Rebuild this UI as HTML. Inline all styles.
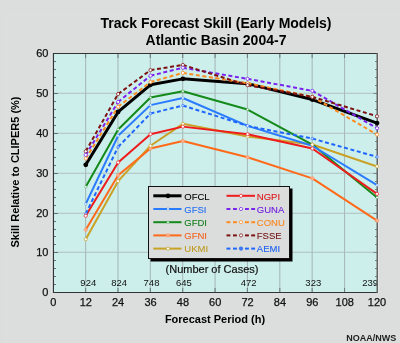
<!DOCTYPE html><html><head><meta charset="utf-8"><style>html,body{margin:0;padding:0;background:#dbdedd;}svg{display:block;will-change:transform;font-family:"Liberation Sans",sans-serif;}</style></head><body>
<svg width="400" height="343" viewBox="0 0 400 343">
<rect x="0" y="0" width="400" height="343" fill="#dbdedd"/>
<rect x="6.5" y="14.5" width="394" height="330" fill="none" stroke="#dde0df" stroke-width="1"/>
<text x="216" y="28.3" text-anchor="middle" font-size="14" font-weight="bold" fill="#000">Track Forecast Skill (Early Models)</text>
<text x="216" y="44.9" text-anchor="middle" font-size="14" font-weight="bold" fill="#000">Atlantic Basin 2004-7</text>
<rect x="53.5" y="53.5" width="324" height="239" fill="#ccefec"/>
<line x1="85.61" y1="54" x2="85.61" y2="292" stroke="#a8baba" stroke-width="1.1"/>
<line x1="85.61" y1="54" x2="85.61" y2="58" stroke="#6f7f7f" stroke-width="1.1"/>
<line x1="85.61" y1="288" x2="85.61" y2="292" stroke="#6f7f7f" stroke-width="1.1"/>
<line x1="117.98" y1="54" x2="117.98" y2="292" stroke="#a8baba" stroke-width="1.1"/>
<line x1="117.98" y1="54" x2="117.98" y2="58" stroke="#6f7f7f" stroke-width="1.1"/>
<line x1="117.98" y1="288" x2="117.98" y2="292" stroke="#6f7f7f" stroke-width="1.1"/>
<line x1="150.34" y1="54" x2="150.34" y2="292" stroke="#a8baba" stroke-width="1.1"/>
<line x1="150.34" y1="54" x2="150.34" y2="58" stroke="#6f7f7f" stroke-width="1.1"/>
<line x1="150.34" y1="288" x2="150.34" y2="292" stroke="#6f7f7f" stroke-width="1.1"/>
<line x1="182.71" y1="54" x2="182.71" y2="292" stroke="#a8baba" stroke-width="1.1"/>
<line x1="182.71" y1="54" x2="182.71" y2="58" stroke="#6f7f7f" stroke-width="1.1"/>
<line x1="182.71" y1="288" x2="182.71" y2="292" stroke="#6f7f7f" stroke-width="1.1"/>
<line x1="247.43" y1="54" x2="247.43" y2="292" stroke="#a8baba" stroke-width="1.1"/>
<line x1="247.43" y1="54" x2="247.43" y2="58" stroke="#6f7f7f" stroke-width="1.1"/>
<line x1="247.43" y1="288" x2="247.43" y2="292" stroke="#6f7f7f" stroke-width="1.1"/>
<line x1="312.16" y1="54" x2="312.16" y2="292" stroke="#a8baba" stroke-width="1.1"/>
<line x1="312.16" y1="54" x2="312.16" y2="58" stroke="#6f7f7f" stroke-width="1.1"/>
<line x1="312.16" y1="288" x2="312.16" y2="292" stroke="#6f7f7f" stroke-width="1.1"/>
<line x1="215.07" y1="54" x2="215.07" y2="292" stroke="#a8baba" stroke-width="1.1"/>
<line x1="215.07" y1="54" x2="215.07" y2="58" stroke="#6f7f7f" stroke-width="1.1"/>
<line x1="215.07" y1="288" x2="215.07" y2="292" stroke="#6f7f7f" stroke-width="1.1"/>
<line x1="279.80" y1="54" x2="279.80" y2="292" stroke="#a8baba" stroke-width="1.1"/>
<line x1="279.80" y1="54" x2="279.80" y2="58" stroke="#6f7f7f" stroke-width="1.1"/>
<line x1="279.80" y1="288" x2="279.80" y2="292" stroke="#6f7f7f" stroke-width="1.1"/>
<line x1="344.53" y1="54" x2="344.53" y2="292" stroke="#a8baba" stroke-width="1.1"/>
<line x1="344.53" y1="54" x2="344.53" y2="58" stroke="#6f7f7f" stroke-width="1.1"/>
<line x1="344.53" y1="288" x2="344.53" y2="292" stroke="#6f7f7f" stroke-width="1.1"/>
<line x1="54" y1="252.25" x2="377" y2="252.25" stroke="#acbfbf" stroke-width="1.1"/>
<line x1="54" y1="213.25" x2="377" y2="213.25" stroke="#acbfbf" stroke-width="1.1"/>
<line x1="54" y1="173.25" x2="377" y2="173.25" stroke="#acbfbf" stroke-width="1.1"/>
<line x1="54" y1="133.25" x2="377" y2="133.25" stroke="#acbfbf" stroke-width="1.1"/>
<line x1="54" y1="93.25" x2="377" y2="93.25" stroke="#acbfbf" stroke-width="1.1"/>
<line x1="54" y1="284.5" x2="56" y2="284.5" stroke="#667070" stroke-width="1"/>
<line x1="375.0" y1="284.5" x2="377" y2="284.5" stroke="#7a8585" stroke-width="1"/>
<line x1="54" y1="276.5" x2="56" y2="276.5" stroke="#667070" stroke-width="1"/>
<line x1="375.0" y1="276.5" x2="377" y2="276.5" stroke="#7a8585" stroke-width="1"/>
<line x1="54" y1="268.5" x2="56" y2="268.5" stroke="#667070" stroke-width="1"/>
<line x1="375.0" y1="268.5" x2="377" y2="268.5" stroke="#7a8585" stroke-width="1"/>
<line x1="54" y1="260.5" x2="56" y2="260.5" stroke="#667070" stroke-width="1"/>
<line x1="375.0" y1="260.5" x2="377" y2="260.5" stroke="#7a8585" stroke-width="1"/>
<line x1="54" y1="252.5" x2="58" y2="252.5" stroke="#667070" stroke-width="1"/>
<line x1="373.5" y1="252.5" x2="377" y2="252.5" stroke="#7a8585" stroke-width="1"/>
<line x1="54" y1="244.5" x2="56" y2="244.5" stroke="#667070" stroke-width="1"/>
<line x1="375.0" y1="244.5" x2="377" y2="244.5" stroke="#7a8585" stroke-width="1"/>
<line x1="54" y1="236.5" x2="56" y2="236.5" stroke="#667070" stroke-width="1"/>
<line x1="375.0" y1="236.5" x2="377" y2="236.5" stroke="#7a8585" stroke-width="1"/>
<line x1="54" y1="229.5" x2="56" y2="229.5" stroke="#667070" stroke-width="1"/>
<line x1="375.0" y1="229.5" x2="377" y2="229.5" stroke="#7a8585" stroke-width="1"/>
<line x1="54" y1="221.5" x2="56" y2="221.5" stroke="#667070" stroke-width="1"/>
<line x1="375.0" y1="221.5" x2="377" y2="221.5" stroke="#7a8585" stroke-width="1"/>
<line x1="54" y1="213.5" x2="58" y2="213.5" stroke="#667070" stroke-width="1"/>
<line x1="373.5" y1="213.5" x2="377" y2="213.5" stroke="#7a8585" stroke-width="1"/>
<line x1="54" y1="205.5" x2="56" y2="205.5" stroke="#667070" stroke-width="1"/>
<line x1="375.0" y1="205.5" x2="377" y2="205.5" stroke="#7a8585" stroke-width="1"/>
<line x1="54" y1="197.5" x2="56" y2="197.5" stroke="#667070" stroke-width="1"/>
<line x1="375.0" y1="197.5" x2="377" y2="197.5" stroke="#7a8585" stroke-width="1"/>
<line x1="54" y1="189.5" x2="56" y2="189.5" stroke="#667070" stroke-width="1"/>
<line x1="375.0" y1="189.5" x2="377" y2="189.5" stroke="#7a8585" stroke-width="1"/>
<line x1="54" y1="181.5" x2="56" y2="181.5" stroke="#667070" stroke-width="1"/>
<line x1="375.0" y1="181.5" x2="377" y2="181.5" stroke="#7a8585" stroke-width="1"/>
<line x1="54" y1="173.5" x2="58" y2="173.5" stroke="#667070" stroke-width="1"/>
<line x1="373.5" y1="173.5" x2="377" y2="173.5" stroke="#7a8585" stroke-width="1"/>
<line x1="54" y1="165.5" x2="56" y2="165.5" stroke="#667070" stroke-width="1"/>
<line x1="375.0" y1="165.5" x2="377" y2="165.5" stroke="#7a8585" stroke-width="1"/>
<line x1="54" y1="157.5" x2="56" y2="157.5" stroke="#667070" stroke-width="1"/>
<line x1="375.0" y1="157.5" x2="377" y2="157.5" stroke="#7a8585" stroke-width="1"/>
<line x1="54" y1="149.5" x2="56" y2="149.5" stroke="#667070" stroke-width="1"/>
<line x1="375.0" y1="149.5" x2="377" y2="149.5" stroke="#7a8585" stroke-width="1"/>
<line x1="54" y1="141.5" x2="56" y2="141.5" stroke="#667070" stroke-width="1"/>
<line x1="375.0" y1="141.5" x2="377" y2="141.5" stroke="#7a8585" stroke-width="1"/>
<line x1="54" y1="133.5" x2="58" y2="133.5" stroke="#667070" stroke-width="1"/>
<line x1="373.5" y1="133.5" x2="377" y2="133.5" stroke="#7a8585" stroke-width="1"/>
<line x1="54" y1="125.5" x2="56" y2="125.5" stroke="#667070" stroke-width="1"/>
<line x1="375.0" y1="125.5" x2="377" y2="125.5" stroke="#7a8585" stroke-width="1"/>
<line x1="54" y1="117.5" x2="56" y2="117.5" stroke="#667070" stroke-width="1"/>
<line x1="375.0" y1="117.5" x2="377" y2="117.5" stroke="#7a8585" stroke-width="1"/>
<line x1="54" y1="109.5" x2="56" y2="109.5" stroke="#667070" stroke-width="1"/>
<line x1="375.0" y1="109.5" x2="377" y2="109.5" stroke="#7a8585" stroke-width="1"/>
<line x1="54" y1="101.5" x2="56" y2="101.5" stroke="#667070" stroke-width="1"/>
<line x1="375.0" y1="101.5" x2="377" y2="101.5" stroke="#7a8585" stroke-width="1"/>
<line x1="54" y1="93.5" x2="58" y2="93.5" stroke="#667070" stroke-width="1"/>
<line x1="373.5" y1="93.5" x2="377" y2="93.5" stroke="#7a8585" stroke-width="1"/>
<line x1="54" y1="85.5" x2="56" y2="85.5" stroke="#667070" stroke-width="1"/>
<line x1="375.0" y1="85.5" x2="377" y2="85.5" stroke="#7a8585" stroke-width="1"/>
<line x1="54" y1="77.5" x2="56" y2="77.5" stroke="#667070" stroke-width="1"/>
<line x1="375.0" y1="77.5" x2="377" y2="77.5" stroke="#7a8585" stroke-width="1"/>
<line x1="54" y1="69.5" x2="56" y2="69.5" stroke="#667070" stroke-width="1"/>
<line x1="375.0" y1="69.5" x2="377" y2="69.5" stroke="#7a8585" stroke-width="1"/>
<line x1="54" y1="61.5" x2="56" y2="61.5" stroke="#667070" stroke-width="1"/>
<line x1="375.0" y1="61.5" x2="377" y2="61.5" stroke="#7a8585" stroke-width="1"/>
<text x="88.3" y="285.9" text-anchor="middle" font-size="9.5" fill="#111">924</text>
<text x="119.1" y="285.9" text-anchor="middle" font-size="9.5" fill="#111">824</text>
<text x="151.5" y="285.9" text-anchor="middle" font-size="9.5" fill="#111">748</text>
<text x="183.9" y="285.9" text-anchor="middle" font-size="9.5" fill="#111">645</text>
<text x="248.6" y="285.9" text-anchor="middle" font-size="9.5" fill="#111">472</text>
<text x="313.3" y="285.9" text-anchor="middle" font-size="9.5" fill="#111">323</text>
<text x="378.0" y="285.9" text-anchor="end" font-size="9.5" fill="#111">239</text>
<text x="212" y="272.5" text-anchor="middle" font-size="11" fill="#111" stroke="#111" stroke-width="0.2">(Number of Cases)</text>
<polyline points="85.76,239.27 118.13,181.16 150.49,145.74 182.86,123.85 247.58,136.58 312.31,144.54 377.04,166.43" fill="none" stroke="#c9a227" stroke-width="2.0" stroke-linejoin="round"/>
<polyline points="85.76,229.71 118.13,175.19 150.49,148.52 182.86,140.96 247.58,157.28 312.31,178.37 377.04,220.56" fill="none" stroke="#ff6a1a" stroke-width="2.0" stroke-linejoin="round"/>
<polyline points="85.76,186.73 118.13,129.42 150.49,97.58 182.86,91.21 247.58,109.52 312.31,144.54 377.04,197.48" fill="none" stroke="#138a1a" stroke-width="2.0" stroke-linejoin="round"/>
<polyline points="85.76,203.84 118.13,135.79 150.49,105.14 182.86,97.98 247.58,125.84 312.31,145.74 377.04,185.14" fill="none" stroke="#2a7bff" stroke-width="2.0" stroke-linejoin="round"/>
<polyline points="85.76,215.78 118.13,162.45 150.49,134.19 182.86,126.63 247.58,134.19 312.31,148.52 377.04,193.89" fill="none" stroke="#ee1c1c" stroke-width="2.0" stroke-linejoin="round"/>
<path d="M85.76 213.79L118.13 146.93M118.13 146.93L150.49 113.50M150.49 113.50L182.86 105.54M182.86 105.54L247.58 125.84M247.58 125.84L312.31 138.57M312.31 138.57L377.04 156.88" fill="none" stroke="#1f66ff" stroke-width="2.0" stroke-dasharray="4 2.6"/>
<polyline points="85.76,164.84 118.13,111.91 150.49,84.84 182.86,78.87 247.58,83.65 312.31,99.57 377.04,123.05" fill="none" stroke="#000000" stroke-width="3.0" stroke-linejoin="round"/>
<path d="M85.76 158.47L118.13 106.73M118.13 106.73L150.49 82.06M150.49 82.06L182.86 72.90M182.86 72.90L247.58 83.25M247.58 83.25L312.31 96.78M312.31 96.78L377.04 134.59" fill="none" stroke="#ff8c1f" stroke-width="2.0" stroke-dasharray="4 2.6"/>
<path d="M85.76 154.89L118.13 101.96M118.13 101.96L150.49 75.69M150.49 75.69L182.86 67.73M182.86 67.73L247.58 78.87M247.58 78.87L312.31 90.81M312.31 90.81L377.04 128.22" fill="none" stroke="#7a22ee" stroke-width="2.0" stroke-dasharray="4 2.6"/>
<path d="M85.76 151.31L118.13 94.00M118.13 94.00L150.49 70.12M150.49 70.12L182.86 64.94M182.86 64.94L247.58 85.24M247.58 85.24L312.31 96.78M312.31 96.78L377.04 116.28" fill="none" stroke="#7d1212" stroke-width="2.0" stroke-dasharray="4 2.6"/>
<rect x="53.5" y="53.5" width="324" height="239" fill="none" stroke="#333" stroke-width="1"/>
<line x1="377.3" y1="53" x2="377.3" y2="293" stroke="#646464" stroke-width="1.6"/>
<line x1="378.6" y1="53" x2="378.6" y2="293" stroke="#e6e8e8" stroke-width="1"/>
<line x1="52.5" y1="53" x2="52.5" y2="293" stroke="#c6c9c9" stroke-width="1"/>
<line x1="51.5" y1="53" x2="51.5" y2="293" stroke="#e3e6e6" stroke-width="1"/>
<circle cx="85.76" cy="229.71" r="1.8" fill="#ffae88" stroke="#ff9466" stroke-width="0.5"/>
<circle cx="118.13" cy="175.19" r="1.8" fill="#ffae88" stroke="#ff9466" stroke-width="0.5"/>
<circle cx="150.49" cy="148.52" r="1.8" fill="#ffae88" stroke="#ff9466" stroke-width="0.5"/>
<circle cx="182.86" cy="140.96" r="1.8" fill="#ffae88" stroke="#ff9466" stroke-width="0.5"/>
<circle cx="247.58" cy="157.28" r="1.8" fill="#ffae88" stroke="#ff9466" stroke-width="0.5"/>
<circle cx="312.31" cy="178.37" r="1.8" fill="#ffae88" stroke="#ff9466" stroke-width="0.5"/>
<circle cx="377.04" cy="220.56" r="1.8" fill="#ffae88" stroke="#ff9466" stroke-width="0.5"/>
<circle cx="85.76" cy="213.79" r="1.3" fill="#b8d0ff" stroke="#1f66ff" stroke-width="0.5"/>
<circle cx="118.13" cy="146.93" r="1.3" fill="#b8d0ff" stroke="#1f66ff" stroke-width="0.5"/>
<circle cx="150.49" cy="113.50" r="1.3" fill="#b8d0ff" stroke="#1f66ff" stroke-width="0.5"/>
<circle cx="182.86" cy="105.54" r="1.3" fill="#b8d0ff" stroke="#1f66ff" stroke-width="0.5"/>
<circle cx="247.58" cy="125.84" r="1.3" fill="#b8d0ff" stroke="#1f66ff" stroke-width="0.5"/>
<circle cx="312.31" cy="138.57" r="1.3" fill="#b8d0ff" stroke="#1f66ff" stroke-width="0.5"/>
<circle cx="377.04" cy="156.88" r="1.3" fill="#b8d0ff" stroke="#1f66ff" stroke-width="0.5"/>
<circle cx="85.76" cy="203.84" r="1.2" fill="#fff" stroke="#2a7bff" stroke-width="0.4"/>
<circle cx="118.13" cy="135.79" r="1.2" fill="#fff" stroke="#2a7bff" stroke-width="0.4"/>
<circle cx="150.49" cy="105.14" r="1.2" fill="#fff" stroke="#2a7bff" stroke-width="0.4"/>
<circle cx="182.86" cy="97.98" r="1.2" fill="#fff" stroke="#2a7bff" stroke-width="0.4"/>
<circle cx="247.58" cy="125.84" r="1.2" fill="#fff" stroke="#2a7bff" stroke-width="0.4"/>
<circle cx="312.31" cy="145.74" r="1.2" fill="#fff" stroke="#2a7bff" stroke-width="0.4"/>
<circle cx="377.04" cy="185.14" r="1.2" fill="#fff" stroke="#2a7bff" stroke-width="0.4"/>
<circle cx="85.76" cy="186.73" r="1.2" fill="#fff" stroke="#138a1a" stroke-width="0.4"/>
<circle cx="118.13" cy="129.42" r="1.2" fill="#fff" stroke="#138a1a" stroke-width="0.4"/>
<circle cx="150.49" cy="97.58" r="1.2" fill="#fff" stroke="#138a1a" stroke-width="0.4"/>
<circle cx="182.86" cy="91.21" r="1.2" fill="#fff" stroke="#138a1a" stroke-width="0.4"/>
<circle cx="247.58" cy="109.52" r="1.2" fill="#fff" stroke="#138a1a" stroke-width="0.4"/>
<circle cx="312.31" cy="144.54" r="1.2" fill="#fff" stroke="#138a1a" stroke-width="0.4"/>
<circle cx="377.04" cy="197.48" r="1.2" fill="#fff" stroke="#138a1a" stroke-width="0.4"/>
<circle cx="85.76" cy="239.27" r="1.6" fill="#fff" stroke="#c9a227" stroke-width="0.7"/>
<circle cx="118.13" cy="181.16" r="1.6" fill="#fff" stroke="#c9a227" stroke-width="0.7"/>
<circle cx="150.49" cy="145.74" r="1.6" fill="#fff" stroke="#c9a227" stroke-width="0.7"/>
<circle cx="182.86" cy="123.85" r="1.6" fill="#fff" stroke="#c9a227" stroke-width="0.7"/>
<circle cx="247.58" cy="136.58" r="1.6" fill="#fff" stroke="#c9a227" stroke-width="0.7"/>
<circle cx="312.31" cy="144.54" r="1.6" fill="#fff" stroke="#c9a227" stroke-width="0.7"/>
<circle cx="377.04" cy="166.43" r="1.6" fill="#fff" stroke="#c9a227" stroke-width="0.7"/>
<circle cx="85.76" cy="215.78" r="1.6" fill="#fff" stroke="#ee1c1c" stroke-width="0.7"/>
<circle cx="118.13" cy="162.45" r="1.6" fill="#fff" stroke="#ee1c1c" stroke-width="0.7"/>
<circle cx="150.49" cy="134.19" r="1.6" fill="#fff" stroke="#ee1c1c" stroke-width="0.7"/>
<circle cx="182.86" cy="126.63" r="1.6" fill="#fff" stroke="#ee1c1c" stroke-width="0.7"/>
<circle cx="247.58" cy="134.19" r="1.6" fill="#fff" stroke="#ee1c1c" stroke-width="0.7"/>
<circle cx="312.31" cy="148.52" r="1.6" fill="#fff" stroke="#ee1c1c" stroke-width="0.7"/>
<circle cx="377.04" cy="193.89" r="1.6" fill="#fff" stroke="#ee1c1c" stroke-width="0.7"/>
<circle cx="85.76" cy="164.84" r="2.4" fill="#000"/>
<circle cx="118.13" cy="111.91" r="2.4" fill="#000"/>
<circle cx="150.49" cy="84.84" r="2.4" fill="#000"/>
<circle cx="182.86" cy="78.87" r="2.4" fill="#000"/>
<circle cx="312.31" cy="99.57" r="2.4" fill="#000"/>
<circle cx="377.04" cy="123.05" r="2.4" fill="#000"/>
<circle cx="85.76" cy="158.47" r="1.6" fill="#fff" stroke="#ff8c1f" stroke-width="0.75"/>
<circle cx="118.13" cy="106.73" r="1.6" fill="#fff" stroke="#ff8c1f" stroke-width="0.75"/>
<circle cx="150.49" cy="82.06" r="1.6" fill="#fff" stroke="#ff8c1f" stroke-width="0.75"/>
<circle cx="182.86" cy="72.90" r="1.6" fill="#fff" stroke="#ff8c1f" stroke-width="0.75"/>
<circle cx="247.58" cy="83.25" r="1.6" fill="#fff" stroke="#ff8c1f" stroke-width="0.75"/>
<circle cx="312.31" cy="96.78" r="1.6" fill="#fff" stroke="#ff8c1f" stroke-width="0.75"/>
<circle cx="377.04" cy="134.59" r="1.6" fill="#fff" stroke="#ff8c1f" stroke-width="0.75"/>
<circle cx="85.76" cy="151.31" r="1.6" fill="#fff" stroke="#7d1212" stroke-width="0.75"/>
<circle cx="118.13" cy="94.00" r="1.6" fill="#fff" stroke="#7d1212" stroke-width="0.75"/>
<circle cx="150.49" cy="70.12" r="1.6" fill="#fff" stroke="#7d1212" stroke-width="0.75"/>
<circle cx="182.86" cy="64.94" r="1.6" fill="#fff" stroke="#7d1212" stroke-width="0.75"/>
<circle cx="247.58" cy="85.24" r="1.6" fill="#fff" stroke="#7d1212" stroke-width="0.75"/>
<circle cx="312.31" cy="96.78" r="1.6" fill="#fff" stroke="#7d1212" stroke-width="0.75"/>
<circle cx="377.04" cy="116.28" r="1.6" fill="#fff" stroke="#7d1212" stroke-width="0.75"/>
<circle cx="85.76" cy="154.89" r="1.6" fill="#fff" stroke="#7a22ee" stroke-width="0.75"/>
<circle cx="118.13" cy="101.96" r="1.6" fill="#fff" stroke="#7a22ee" stroke-width="0.75"/>
<circle cx="150.49" cy="75.69" r="1.6" fill="#fff" stroke="#7a22ee" stroke-width="0.75"/>
<circle cx="182.86" cy="67.73" r="1.6" fill="#fff" stroke="#7a22ee" stroke-width="0.75"/>
<circle cx="247.58" cy="78.87" r="1.6" fill="#fff" stroke="#7a22ee" stroke-width="0.75"/>
<circle cx="312.31" cy="90.81" r="1.6" fill="#fff" stroke="#7a22ee" stroke-width="0.75"/>
<circle cx="377.04" cy="128.22" r="1.6" fill="#fff" stroke="#7a22ee" stroke-width="0.75"/>
<rect x="150.5" y="188.5" width="142" height="73" fill="#000"/>
<rect x="148.5" y="186.5" width="141" height="72" fill="#dadddc" stroke="#111" stroke-width="1"/>
<line x1="153.3" y1="195.8" x2="181.5" y2="195.8" stroke="#000" stroke-width="3"/>
<circle cx="168.00" cy="195.80" r="2.4" fill="#000"/>
<text x="184.3" y="199.6" font-size="9.5" fill="#000" stroke="#000" stroke-width="0.1">OFCL</text>
<line x1="153.3" y1="209.0" x2="181.5" y2="209.0" stroke="#2a7bff" stroke-width="2"/>
<circle cx="168.00" cy="209.00" r="1.2" fill="#fff" stroke="#2a7bff" stroke-width="0.4"/>
<text x="184.3" y="212.8" font-size="9.5" fill="#2370f4" stroke="#2370f4" stroke-width="0.1">GFSI</text>
<line x1="153.3" y1="222.2" x2="181.5" y2="222.2" stroke="#138a1a" stroke-width="2"/>
<circle cx="168.00" cy="222.20" r="1.2" fill="#fff" stroke="#138a1a" stroke-width="0.4"/>
<text x="184.3" y="226.0" font-size="9.5" fill="#107f18" stroke="#107f18" stroke-width="0.1">GFDI</text>
<line x1="153.3" y1="235.4" x2="181.5" y2="235.4" stroke="#ff6a1a" stroke-width="2"/>
<circle cx="168.00" cy="235.40" r="1.8" fill="#ffae88" stroke="#ff9466" stroke-width="0.5"/>
<text x="184.3" y="239.2" font-size="9.5" fill="#f56320" stroke="#f56320" stroke-width="0.1">GFNI</text>
<line x1="153.3" y1="248.6" x2="181.5" y2="248.6" stroke="#c9a227" stroke-width="2"/>
<circle cx="168.00" cy="248.60" r="1.6" fill="#fff" stroke="#c9a227" stroke-width="0.7"/>
<text x="184.3" y="252.4" font-size="9.5" fill="#bf9a20" stroke="#bf9a20" stroke-width="0.1">UKMI</text>
<line x1="226.5" y1="195.8" x2="255" y2="195.8" stroke="#ee1c1c" stroke-width="2"/>
<circle cx="241.00" cy="195.80" r="1.6" fill="#fff" stroke="#ee1c1c" stroke-width="0.7"/>
<text x="256.8" y="199.6" font-size="9.5" fill="#e01418" stroke="#e01418" stroke-width="0.1">NGPI</text>
<line x1="226.5" y1="209.0" x2="230.4" y2="209.0" stroke="#7a22ee" stroke-width="2"/>
<line x1="233.0" y1="209.0" x2="236.9" y2="209.0" stroke="#7a22ee" stroke-width="2"/>
<line x1="245.0" y1="209.0" x2="248.9" y2="209.0" stroke="#7a22ee" stroke-width="2"/>
<line x1="251.2" y1="209.0" x2="255.1" y2="209.0" stroke="#7a22ee" stroke-width="2"/>
<circle cx="241.00" cy="209.00" r="1.6" fill="#fff" stroke="#7a22ee" stroke-width="0.75"/>
<text x="256.8" y="212.8" font-size="9.5" fill="#6e1ce0" stroke="#6e1ce0" stroke-width="0.1">GUNA</text>
<line x1="226.5" y1="222.2" x2="230.4" y2="222.2" stroke="#ff8c1f" stroke-width="2"/>
<line x1="233.0" y1="222.2" x2="236.9" y2="222.2" stroke="#ff8c1f" stroke-width="2"/>
<line x1="245.0" y1="222.2" x2="248.9" y2="222.2" stroke="#ff8c1f" stroke-width="2"/>
<line x1="251.2" y1="222.2" x2="255.1" y2="222.2" stroke="#ff8c1f" stroke-width="2"/>
<circle cx="241.00" cy="222.20" r="1.6" fill="#fff" stroke="#ff8c1f" stroke-width="0.75"/>
<text x="256.8" y="226.0" font-size="9.5" fill="#f88820" stroke="#f88820" stroke-width="0.1">CONU</text>
<line x1="226.5" y1="235.4" x2="230.4" y2="235.4" stroke="#7d1212" stroke-width="2"/>
<line x1="233.0" y1="235.4" x2="236.9" y2="235.4" stroke="#7d1212" stroke-width="2"/>
<line x1="245.0" y1="235.4" x2="248.9" y2="235.4" stroke="#7d1212" stroke-width="2"/>
<line x1="251.2" y1="235.4" x2="255.1" y2="235.4" stroke="#7d1212" stroke-width="2"/>
<circle cx="241.00" cy="235.40" r="1.6" fill="#fff" stroke="#7d1212" stroke-width="0.75"/>
<text x="256.8" y="239.2" font-size="9.5" fill="#741414" stroke="#741414" stroke-width="0.1">FSSE</text>
<line x1="226.5" y1="248.6" x2="230.4" y2="248.6" stroke="#1f66ff" stroke-width="2"/>
<line x1="233.0" y1="248.6" x2="236.9" y2="248.6" stroke="#1f66ff" stroke-width="2"/>
<line x1="245.0" y1="248.6" x2="248.9" y2="248.6" stroke="#1f66ff" stroke-width="2"/>
<line x1="251.2" y1="248.6" x2="255.1" y2="248.6" stroke="#1f66ff" stroke-width="2"/>
<circle cx="241.00" cy="248.60" r="1.8" fill="#3f7bff" stroke="#1f5fe0" stroke-width="0.5"/>
<text x="256.8" y="252.4" font-size="9.5" fill="#1f62f4" stroke="#1f62f4" stroke-width="0.1">AEMI</text>
<text x="48.4" y="296.1" text-anchor="end" font-size="11" fill="#111" stroke="#111" stroke-width="0.25">0</text>
<text x="48.4" y="256.3" text-anchor="end" font-size="11" fill="#111" stroke="#111" stroke-width="0.25">10</text>
<text x="48.4" y="216.5" text-anchor="end" font-size="11" fill="#111" stroke="#111" stroke-width="0.25">20</text>
<text x="48.4" y="176.7" text-anchor="end" font-size="11" fill="#111" stroke="#111" stroke-width="0.25">30</text>
<text x="48.4" y="136.9" text-anchor="end" font-size="11" fill="#111" stroke="#111" stroke-width="0.25">40</text>
<text x="48.4" y="97.1" text-anchor="end" font-size="11" fill="#111" stroke="#111" stroke-width="0.25">50</text>
<text x="48.4" y="57.3" text-anchor="end" font-size="11" fill="#111" stroke="#111" stroke-width="0.25">60</text>
<text x="53.4" y="306" text-anchor="middle" font-size="11" fill="#111" stroke="#111" stroke-width="0.25">0</text>
<text x="85.8" y="306" text-anchor="middle" font-size="11" fill="#111" stroke="#111" stroke-width="0.25">12</text>
<text x="118.1" y="306" text-anchor="middle" font-size="11" fill="#111" stroke="#111" stroke-width="0.25">24</text>
<text x="150.5" y="306" text-anchor="middle" font-size="11" fill="#111" stroke="#111" stroke-width="0.25">36</text>
<text x="182.9" y="306" text-anchor="middle" font-size="11" fill="#111" stroke="#111" stroke-width="0.25">48</text>
<text x="215.2" y="306" text-anchor="middle" font-size="11" fill="#111" stroke="#111" stroke-width="0.25">60</text>
<text x="247.6" y="306" text-anchor="middle" font-size="11" fill="#111" stroke="#111" stroke-width="0.25">72</text>
<text x="279.9" y="306" text-anchor="middle" font-size="11" fill="#111" stroke="#111" stroke-width="0.25">84</text>
<text x="312.3" y="306" text-anchor="middle" font-size="11" fill="#111" stroke="#111" stroke-width="0.25">96</text>
<text x="344.7" y="306" text-anchor="middle" font-size="11" fill="#111" stroke="#111" stroke-width="0.25">108</text>
<text x="377.0" y="306" text-anchor="middle" font-size="11" fill="#111" stroke="#111" stroke-width="0.25">120</text>
<text x="215" y="322.7" text-anchor="middle" font-size="11" font-weight="bold" fill="#000">Forecast Period (h)</text>
<text transform="translate(18.7,172) rotate(-90)" text-anchor="middle" font-size="11" font-weight="bold" fill="#000">Skill Relative to CLIPER5 (%)</text>
<text x="396.3" y="340.5" text-anchor="end" font-size="9" font-weight="bold" fill="#222">NOAA/NWS</text>
</svg></body></html>
